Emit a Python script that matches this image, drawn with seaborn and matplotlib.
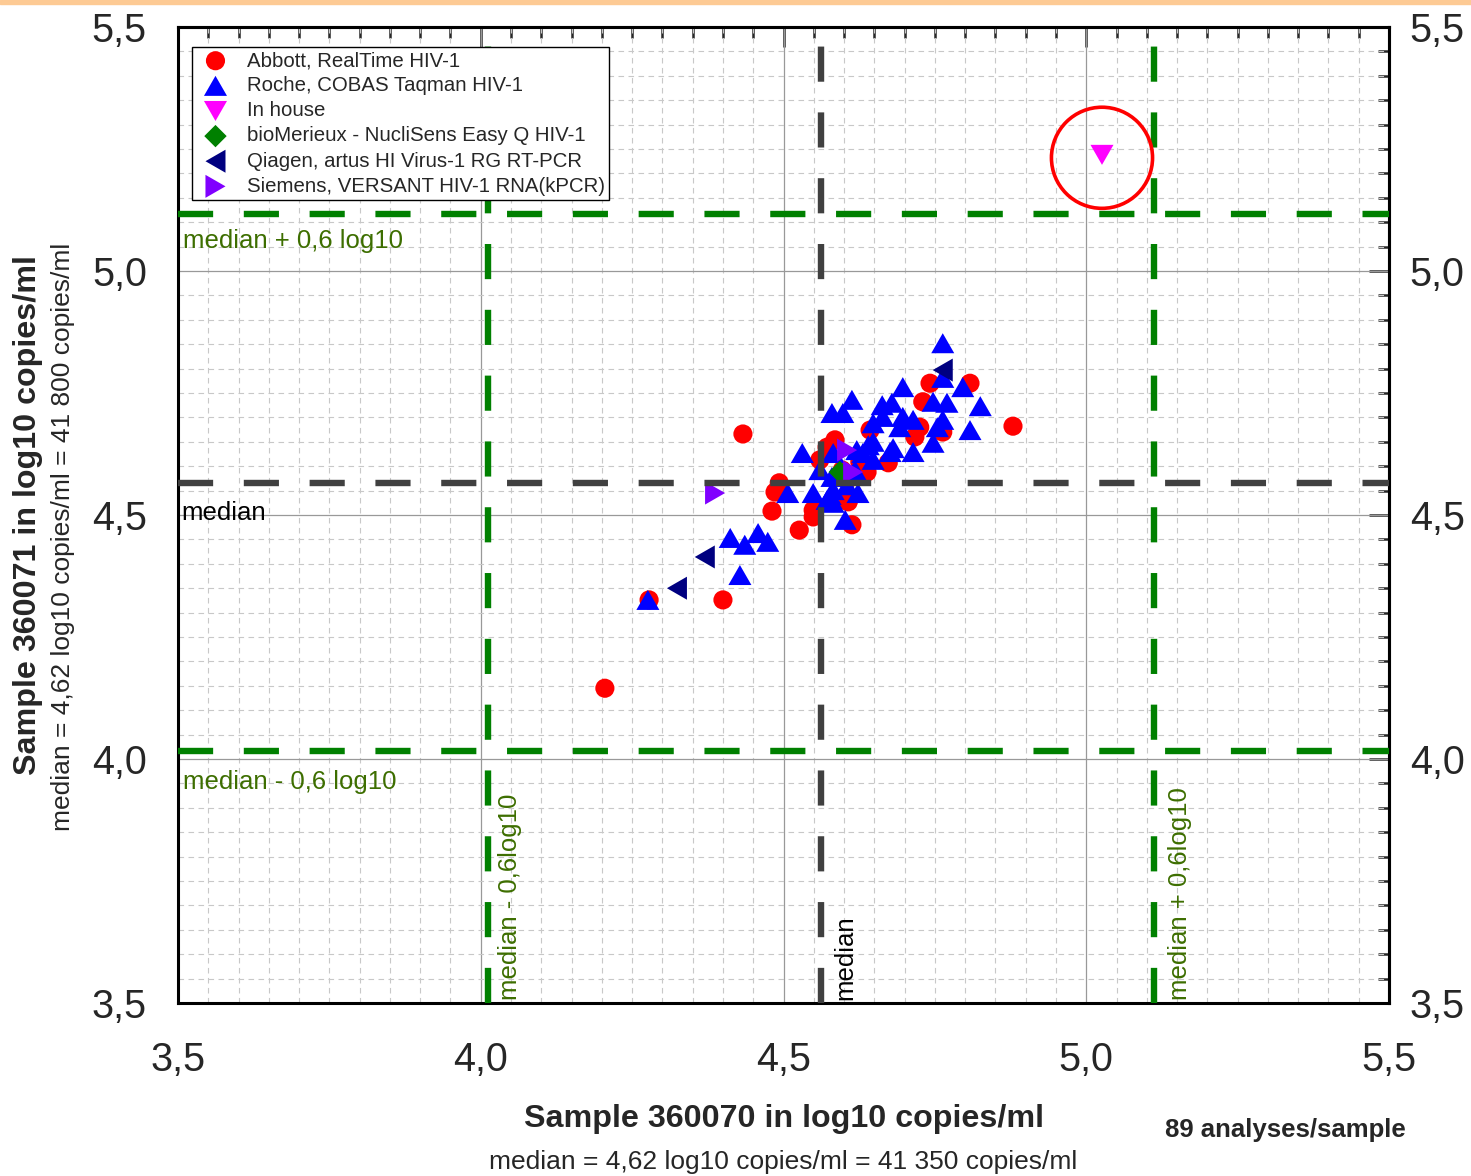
import numpy as np
import pandas as pd
import matplotlib
matplotlib.use("Agg")
import matplotlib.pyplot as plt
import seaborn as sns
from matplotlib.path import Path
from matplotlib.markers import MarkerStyle
from matplotlib.patches import Rectangle
from matplotlib.ticker import FixedLocator, FuncFormatter

# ---------------- data (log10 copies/ml) ----------------
methods = [
    "Abbott, RealTime HIV-1",
    "Roche, COBAS Taqman HIV-1",
    "In house",
    "bioMerieux - NucliSens Easy Q HIV-1",
    "Qiagen, artus HI Virus-1 RG RT-PCR",
    "Siemens, VERSANT HIV-1 RNA(kPCR)",
]

abbott_x = [4.205, 4.278, 4.400, 4.433, 4.481, 4.486, 4.493, 4.526, 4.549, 4.549,
            4.572, 4.560, 4.607, 4.613, 4.638, 4.673, 4.643, 4.725, 4.717, 4.763,
            4.742, 4.730, 4.808, 4.879, 4.605, 4.585, 4.626, 4.597]
abbott_y = [4.145, 4.326, 4.326, 4.666, 4.508, 4.547, 4.566, 4.469, 4.496, 4.510,
            4.639, 4.613, 4.527, 4.480, 4.588, 4.607, 4.674, 4.680, 4.660, 4.670,
            4.770, 4.732, 4.770, 4.682, 4.572, 4.654, 4.609, 4.592]

roche_x = [4.763, 4.763, 4.796, 4.825, 4.808, 4.763, 4.747, 4.770, 4.697, 4.663,
           4.679, 4.697, 4.714, 4.648, 4.664, 4.692, 4.747, 4.714, 4.681, 4.648,
           4.648, 4.621, 4.631, 4.613, 4.598, 4.580, 4.531, 4.582, 4.580, 4.582,
           4.572, 4.549, 4.507, 4.623, 4.605, 4.602, 4.474, 4.458, 4.436, 4.412,
           4.428, 4.276, 4.640, 4.676, 4.577, 4.582, 4.754, 4.618, 4.560]
roche_y = [4.852, 4.781, 4.762, 4.723, 4.674, 4.695, 4.732, 4.730, 4.762, 4.725,
           4.730, 4.701, 4.695, 4.688, 4.701, 4.680, 4.648, 4.629, 4.637, 4.650,
           4.613, 4.633, 4.627, 4.736, 4.709, 4.709, 4.627, 4.627, 4.578, 4.551,
           4.531, 4.545, 4.545, 4.545, 4.561, 4.490, 4.445, 4.463, 4.439, 4.453,
           4.377, 4.326, 4.643, 4.629, 4.541, 4.525, 4.680, 4.592, 4.592]

inhouse_x = [5.026]
inhouse_y = [5.238]

biomerieux_x = [4.593]
biomerieux_y = [4.588]

qiagen_x = [4.763, 4.370, 4.324]
qiagen_y = [4.797, 4.414, 4.350]

siemens_x = [4.387, 4.605, 4.615]
siemens_y = [4.545, 4.633, 4.588]

# reference lines as drawn
median_x = 4.562
median_y = 4.566
limit_offset = 0.55

# highlighted outlier
outlier_x = 5.026
outlier_y = 5.232

tick_values = [3.5, 4.0, 4.5, 5.0, 5.5]
minor_step = 0.05

x_title = "Sample 360070 in log10 copies/ml"
x_sub = "median = 4,62 log10 copies/ml = 41 350 copies/ml"
y_title = "Sample 360071 in log10 copies/ml"
y_sub = "median = 4,62 log10 copies/ml = 41 800 copies/ml"
n_note = "89 analyses/sample"

# ---------------- frame ----------------
frames = []
for name, xs, ys in [
    (methods[0], abbott_x, abbott_y),
    (methods[1], roche_x, roche_y),
    (methods[2], inhouse_x, inhouse_y),
    (methods[3], biomerieux_x, biomerieux_y),
    (methods[4], qiagen_x, qiagen_y),
    (methods[5], siemens_x, siemens_y),
]:
    frames.append(pd.DataFrame({"x": xs, "y": ys, "method": name}))
df = pd.concat(frames, ignore_index=True)

# ---------------- style ----------------
sns.set_style("white")
plt.rcParams["font.family"] = ["Liberation Sans", "DejaVu Sans"]

W, H = 1471, 1176
fig = plt.figure(figsize=(W / 100, H / 100), dpi=100)
ax = fig.add_axes([178 / W, 1 - 1003 / H, 1211 / W, 976 / H])

tri_up = Path([(-1.15, -1), (1.15, -1), (0, 1), (-1.15, -1)],
              [Path.MOVETO, Path.LINETO, Path.LINETO, Path.CLOSEPOLY])
tri_down = Path([(-1.15, 1), (1.15, 1), (0, -1), (-1.15, 1)],
                [Path.MOVETO, Path.LINETO, Path.LINETO, Path.CLOSEPOLY])
tri_left = Path([(1, -1.15), (1, 1.15), (-1, 0), (1, -1.15)],
                [Path.MOVETO, Path.LINETO, Path.LINETO, Path.CLOSEPOLY])
tri_right = Path([(-1, -1.15), (-1, 1.15), (1, 0), (-1, -1.15)],
                 [Path.MOVETO, Path.LINETO, Path.LINETO, Path.CLOSEPOLY])
diamond = Path([(0, 1), (1, 0), (0, -1), (-1, 0), (0, 1)],
               [Path.MOVETO, Path.LINETO, Path.LINETO, Path.LINETO, Path.CLOSEPOLY])

styles = {
    methods[0]: dict(color="#ff0000", marker="o", s=190),
    methods[1]: dict(color="#0000ff", marker=MarkerStyle(tri_up), s=275),
    methods[2]: dict(color="#ff00ff", marker=MarkerStyle(tri_down), s=275),
    methods[3]: dict(color="#008000", marker=MarkerStyle(diamond), s=260),
    methods[4]: dict(color="#000080", marker=MarkerStyle(tri_left), s=275),
    methods[5]: dict(color="#8000ff", marker=MarkerStyle(tri_right), s=275),
}

for m in methods:
    sub = df[df["method"] == m]
    st = styles[m]
    sns.scatterplot(data=sub, x="x", y="y", ax=ax, color=st["color"],
                    marker=st["marker"], s=st["s"], edgecolor="none",
                    linewidth=0, label=m, zorder=3)

# reference lines
green = "#008000"
dark = "#404040"
dash = (0, (5.5, 4.8))
lw_ref = 4.6
ax.axvline(median_x, color=dark, lw=lw_ref, ls=dash, zorder=4)
ax.axhline(median_y, color=dark, lw=lw_ref, ls=dash, zorder=4)
for off in (-limit_offset, limit_offset):
    ax.axvline(median_x + off, color=green, lw=lw_ref, ls=dash, zorder=4)
    ax.axhline(median_y + off, color=green, lw=lw_ref, ls=dash, zorder=4)

# outlier circle
ax.scatter([outlier_x], [outlier_y], s=5300, facecolors="none",
           edgecolors="#ff0000", linewidths=2.6, zorder=6)

# line labels
txt_green = "#3d6e00"
fs_in = 18.5
ax.text(3.508, median_y + limit_offset - 0.055, "median + 0,6 log10", color=txt_green,
        fontsize=fs_in, ha="left", va="center", zorder=7)
ax.text(3.508, median_y - limit_offset - 0.063, "median - 0,6 log10", color=txt_green,
        fontsize=fs_in, ha="left", va="center", zorder=7)
ax.text(3.505, median_y - 0.062, "median", color="black",
        fontsize=fs_in, ha="left", va="center", zorder=7)
ax.text(median_x - limit_offset + 0.036, 3.506, "median - 0,6log10", color=txt_green,
        fontsize=fs_in, rotation=90, ha="center", va="bottom", zorder=7)
ax.text(median_x + limit_offset + 0.043, 3.506, "median + 0,6log10", color=txt_green,
        fontsize=fs_in, rotation=90, ha="center", va="bottom", zorder=7)
ax.text(median_x + 0.04, 3.506, "median", color="black",
        fontsize=fs_in, rotation=90, ha="center", va="bottom", zorder=7)

# axes
ax.set_xlim(tick_values[0], tick_values[-1])
ax.set_ylim(tick_values[0], tick_values[-1])
fmt = FuncFormatter(lambda v, p: f"{v:.1f}".replace(".", ","))
minor_vals = [v for v in np.arange(tick_values[0], tick_values[-1] + 1e-9, minor_step)
              if min(abs(v - t) for t in tick_values) > 1e-6]
for axis in (ax.xaxis, ax.yaxis):
    axis.set_major_locator(FixedLocator(tick_values))
    axis.set_minor_locator(FixedLocator(minor_vals))
    axis.set_major_formatter(fmt)
ax.set_xlabel("")
ax.set_ylabel("")

ax.grid(which="major", color="#999999", lw=0.9, ls="-")
ax.grid(which="minor", color="#c8c8c8", lw=0.8, ls=(0, (5, 4)))
ax.set_axisbelow(True)

ax.tick_params(which="both", direction="out", top=False, right=False,
               width=1.8, color="black", labelsize=28.5)
ax.tick_params(which="major", length=14.5)
ax.tick_params(which="minor", length=8)
ax.tick_params(axis="x", which="major", pad=13)
ax.tick_params(axis="y", which="major", pad=8)
for sp in ax.spines.values():
    sp.set_linewidth(2.2)
    sp.set_color("black")

sec_top = ax.secondary_xaxis("top")
sec_top.xaxis.set_major_locator(FixedLocator(tick_values))
sec_top.xaxis.set_minor_locator(FixedLocator(minor_vals))
sec_top.tick_params(which="both", direction="in", labeltop=False, width=1.8)
sec_top.tick_params(which="major", length=14.5)
sec_top.tick_params(which="minor", length=8)
sec_top.spines["top"].set_linewidth(2.2)

sec_r = ax.secondary_yaxis("right")
sec_r.yaxis.set_major_locator(FixedLocator(tick_values))
sec_r.yaxis.set_minor_locator(FixedLocator(minor_vals))
sec_r.yaxis.set_major_formatter(fmt)
sec_r.tick_params(which="both", direction="in", width=1.8, labelsize=28.5)
sec_r.tick_params(which="major", length=14.5, pad=15)
sec_r.tick_params(which="minor", length=8)
sec_r.spines["right"].set_linewidth(2.2)

# legend
leg = ax.legend(loc="upper left", bbox_to_anchor=(14 / 1211, 1 - 20 / 976),
                borderaxespad=0, fontsize=14.7, frameon=True, fancybox=False,
                edgecolor="black", framealpha=1, borderpad=0.2,
                handlelength=1.9, handletextpad=0.6, labelspacing=0.3)
leg.get_frame().set_linewidth(1.0)
leg.set_zorder(8)

# titles
fig.text(783.5 / W, 1 - 1119 / H, x_title, fontsize=23.2, fontweight="bold",
         ha="center", va="center")
fig.text(783 / W, 1 - 1162 / H, x_sub, fontsize=19, ha="center", va="center")
fig.text(28 / W, 1 - 515 / H, y_title, fontsize=23.2, fontweight="bold",
         rotation=90, ha="center", va="center")
fig.text(63 / W, 1 - 537 / H, y_sub, fontsize=19, rotation=90,
         ha="center", va="center")
fig.text(1285 / W, 1 - 1130 / H, n_note, fontsize=18.5, fontweight="bold",
         ha="center", va="center")

# top accent strip
fig.patches.append(Rectangle((0, 1 - 4 / H), 1, 4 / H, transform=fig.transFigure,
                             color="#fdca94", zorder=0))

fig.savefig("out.png", dpi=100)
